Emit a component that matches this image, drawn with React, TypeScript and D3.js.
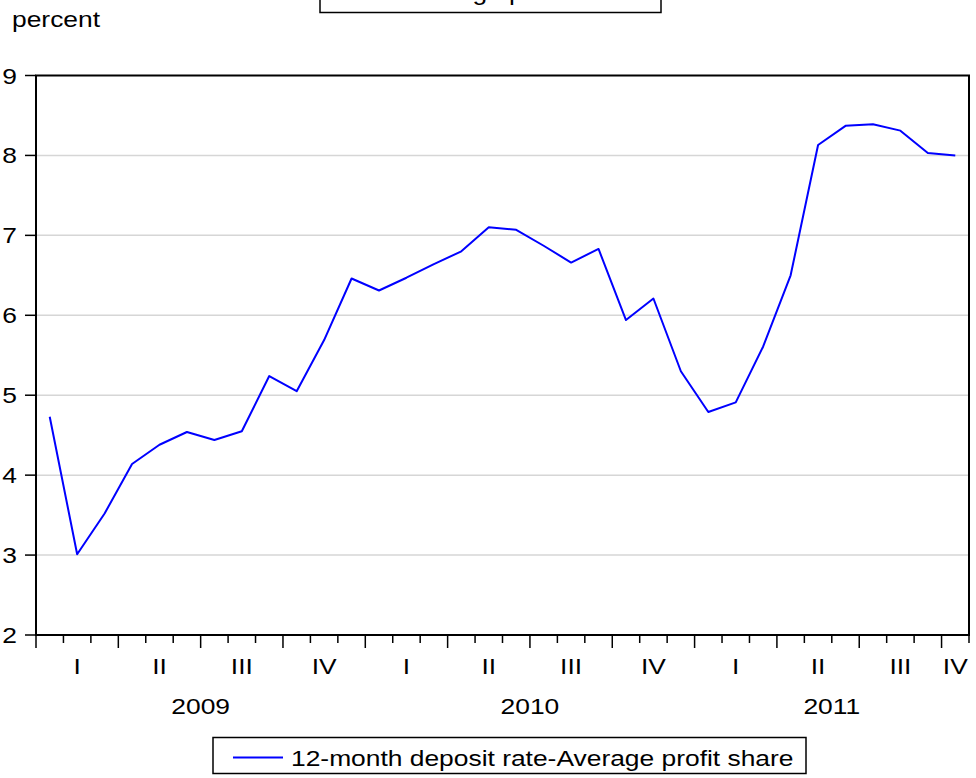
import React from "react";
import * as d3 from "d3";

const startYear = 2009;
const monthCount = 34;
const values: number[] = [
  4.73, 3.01, 3.52, 4.14, 4.38, 4.54, 4.44, 4.55, 5.24, 5.05, 5.69, 6.46,
  6.31, 6.47, 6.64, 6.8, 7.1, 7.07, 6.87, 6.66, 6.83, 5.94, 6.21, 5.3,
  4.79, 4.91, 5.61, 6.5, 8.13, 8.37, 8.39, 8.31, 8.03, 8.0,
];
const yTicks: number[] = [2, 3, 4, 5, 6, 7, 8, 9];
const quarterLabels: string[] = ["I", "II", "III", "IV"];
const seriesName = "12-month deposit rate-Average profit share";
const topBoxText = "Average profit share";
const yUnit = "percent";

const W = 976;
const H = 778;
const left = 36;
const right = 969;
const top = 75.5;
const bottom = 635;
const FS = 22;
const SX = 1.2;
const FONT = "'Liberation Sans', Arial, sans-serif";

function T({ x, y, anchor = "middle", children }: { x: number; y: number; anchor?: string; children: React.ReactNode }) {
  return (
    <text
      transform={`translate(${x},${y}) scale(${SX},1)`}
      textAnchor={anchor}
      fontFamily={FONT}
      fontSize={FS}
      fill="#000"
    >
      {children}
    </text>
  );
}

export default function App() {
  const x = d3.scaleLinear().domain([0, monthCount]).range([left, right]);
  const y = d3.scaleLinear().domain([2, 9]).range([bottom, top]);
  const line = d3
    .line<number>()
    .x((_, i) => x(i + 0.5))
    .y((d) => y(d));

  const monthTicks = d3.range(0, monthCount + 1);
  const quarters = d3.range(0, Math.ceil(monthCount / 3)).map((q) => {
    const a = q * 3;
    const b = Math.min(a + 3, monthCount);
    return { label: quarterLabels[q % 4], cx: x((a + b) / 2) };
  });
  const years = d3.range(0, Math.ceil(monthCount / 12)).map((k) => {
    const a = k * 12;
    const b = Math.min(a + 12, monthCount);
    return { label: String(startYear + k), cx: x((a + b) / 2) };
  });

  return (
    <svg
      width={W}
      height={H}
      style={{ position: "absolute", left: 0, top: 0, background: "#fff" }}
    >
      <rect x={0} y={0} width={W} height={H} fill="#fff" />
      {/* top (cut off) box */}
      <rect x={320} y={-30} width={341} height={42.5} fill="#fff" stroke="#000" strokeWidth={1.5} />
      <T x={404} y={0} anchor="start">{topBoxText}</T>

      <T x={12} y={27} anchor="start">{yUnit}</T>

      {/* grid */}
      {yTicks.filter((t) => t > 2 && t < 9).map((t) => (
        <line key={"g" + t} x1={left} x2={right} y1={y(t)} y2={y(t)} stroke="#d6d6d6" strokeWidth={1.5} />
      ))}

      {/* y ticks */}
      {yTicks.map((t) => (
        <g key={"y" + t}>
          <line x1={25} x2={left} y1={y(t)} y2={y(t)} stroke="#000" strokeWidth={1.5} />
          <T x={17} y={y(t) + 8} anchor="end">{String(t)}</T>
        </g>
      ))}

      {/* x ticks */}
      {monthTicks.map((m) => (
        <line
          key={"m" + m}
          x1={x(m)}
          x2={x(m)}
          y1={bottom}
          y2={m % 3 === 0 && m < monthCount ? bottom + 13 : bottom + 8}
          stroke="#000"
          strokeWidth={1.5}
        />
      ))}
      {quarters.map((q, i) => (
        <T key={"q" + i} x={q.cx} y={673.5}>{q.label}</T>
      ))}
      {years.map((yy) => (
        <T key={yy.label} x={yy.cx} y={713.5}>{yy.label}</T>
      ))}

      {/* series */}
      <path d={line(values) || ""} fill="none" stroke="#0000ff" strokeWidth={2} strokeLinejoin="round" />

      {/* frame */}
      <rect x={left} y={top} width={right - left} height={bottom - top} fill="none" stroke="#000" strokeWidth={2} />

      {/* legend */}
      <rect x={213} y={737.5} width={593} height={36} fill="#fff" stroke="#000" strokeWidth={1.5} />
      <line x1={233} x2={283} y1={757.5} y2={757.5} stroke="#0000ff" strokeWidth={2} />
      <T x={291} y={765.5} anchor="start">{seriesName}</T>
    </svg>
  );
}
